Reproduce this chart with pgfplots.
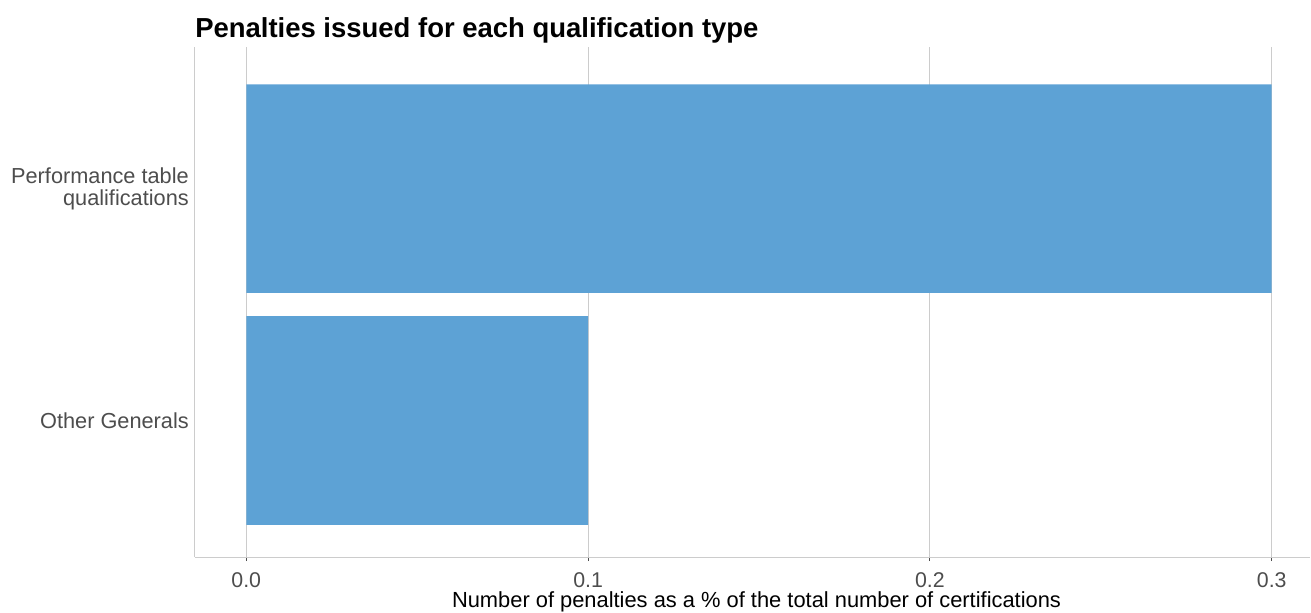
\documentclass[border=0pt]{standalone}
\usepackage{pgfplots}
\pgfplotsset{compat=1.18}
\usepackage{fontspec}
\setmainfont{Liberation Sans}
\definecolor{barblue}{HTML}{5DA2D5}
\definecolor{gridgray}{HTML}{CCCCCC}
\definecolor{ticklab}{HTML}{4D4D4D}
\begin{document}
\begin{tikzpicture}
\begin{axis}[
  at={(0,0)}, anchor=south west,
  scale only axis,
  width=836.25pt, height=382.5pt,
  xbar, bar width=0.9,
  xmin=-0.0150, xmax=0.3112,
  ymin=-0.589, ymax=1.611,
  ytick={0,1},
  yticklabels={Other Generals, {Performance table\\qualifications}},
  xtick={0,0.1,0.2,0.3},
  /pgf/number format/assume math mode=true,
  xticklabel={\pgfmathprintnumber[fixed,fixed zerofill,precision=1]{\tick}},
  xmajorgrids,
  grid style={gridgray, line width=0.75pt},
  axis lines*=left,
  axis line style={-, draw=gridgray, line width=0.75pt},
  tick align=outside,
  xtick style={draw=ticklab, line width=0.75pt},
  major tick length=3pt,
  ytick style={draw=none},
  xticklabel style={font=\fontsize{16}{16}\selectfont, text=ticklab, anchor=base, inner sep=0pt, yshift=-19.5pt},
  yticklabel style={font=\fontsize{16.3}{16.7}\selectfont, text=ticklab, align=right, anchor=east, inner sep=0pt, xshift=-1.5pt},
  xlabel={Number of penalties as a \% of the total number of certifications},
  xlabel style={font=\fontsize{16.4}{16.4}\selectfont, at={(axis description cs:0.5,0)}, anchor=base, inner sep=0pt, yshift=-37.5pt, xshift=3pt},
  clip=false,
]
\addplot[fill=barblue, draw=none] coordinates {(0.1,0) (0.3,1)};
\end{axis}
\node[anchor=base west, inner sep=0pt, font=\fontsize{20.6}{20.6}\selectfont\bfseries] at (0pt,389.25pt) {Penalties issued for each qualification type};
\pgfresetboundingbox
\path (-146.25pt,-41.25pt) rectangle (837pt,417.75pt);
\end{tikzpicture}
\end{document}
